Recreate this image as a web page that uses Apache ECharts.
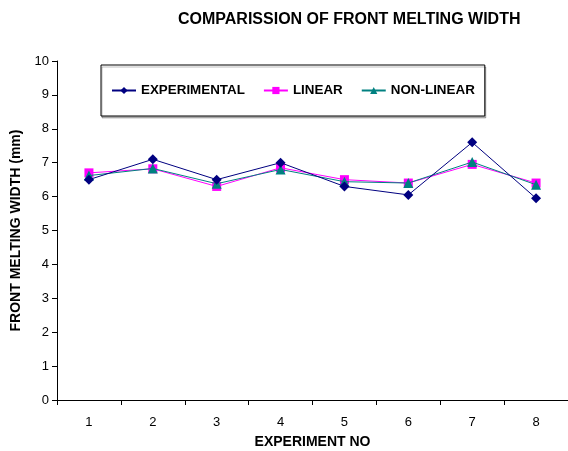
<!DOCTYPE html>
<html>
<head>
<meta charset="utf-8">
<script src="https://cdn.jsdelivr.net/npm/echarts@6/dist/echarts.min.js"></script>
<style>
  html, body { margin: 0; padding: 0; background: #fff; }
  #chart { width: 568px; height: 451px; }
</style>
</head>
<body>
<div id="chart"></div>
<script>
// Front melting width per experiment (mm)
const experiments = ['1', '2', '3', '4', '5', '6', '7', '8'];
const experimental = [6.5, 7.1, 6.5, 7.0, 6.3, 6.05, 7.6, 5.95];
const linear = [6.7, 6.82, 6.3, 6.85, 6.5, 6.4, 6.95, 6.4];
const nonLinear = [6.62, 6.83, 6.38, 6.8, 6.44, 6.4, 7.02, 6.35];
const yTicks = [0, 1, 2, 3, 4, 5, 6, 7, 8, 9, 10];

const font = 'Arial, "Liberation Sans", sans-serif';

const chart = echarts.init(document.getElementById('chart'), null, { renderer: 'canvas' });

chart.setOption({
  animation: false,
  backgroundColor: '#fff',
  title: {
    text: 'COMPARISSION OF FRONT MELTING WIDTH',
    left: 173,
    top: 7,
    textStyle: { fontFamily: font, fontSize: 16, fontWeight: 'bold', color: '#000' }
  },
  legend: {
    left: 101,
    top: 65,
    padding: [19, 10, 19, 10],
    itemGap: 18,
    itemWidth: 24,
    itemHeight: 9,
    borderColor: '#000',
    borderWidth: 1,
    shadowColor: 'rgba(0,0,0,0.25)',
    shadowOffsetX: 1,
    shadowOffsetY: 2,
    shadowBlur: 0,
    backgroundColor: '#fff',
    textStyle: { fontFamily: font, fontSize: 13.4, fontWeight: 'bold', color: '#000' },
    data: ['EXPERIMENTAL', 'LINEAR', 'NON-LINEAR']
  },
  grid: { left: 57, right: 0, top: 61, bottom: 51, outerBoundsMode: 'none', containLabel: false },
  xAxis: {
    type: 'category',
    data: experiments,
    boundaryGap: true,
    name: 'EXPERIMENT NO',
    nameLocation: 'middle',
    nameGap: 35,
    nameTextStyle: { fontFamily: font, fontSize: 14, fontWeight: 'bold', color: '#000' },
    axisLine: { lineStyle: { color: '#000', width: 1 } },
    axisTick: { show: true, length: 5, inside: false, lineStyle: { color: '#000' } },
    axisLabel: { fontFamily: font, fontSize: 13, color: '#000', margin: 16 },
    splitLine: { show: false }
  },
  yAxis: {
    type: 'value',
    min: yTicks[0],
    max: yTicks[yTicks.length - 1],
    interval: 1,
    name: 'FRONT MELTING WIDTH (mm)',
    nameLocation: 'middle',
    nameGap: 29,
    nameTextStyle: { fontFamily: font, fontSize: 14, fontWeight: 'bold', color: '#000' },
    axisLine: { show: true, lineStyle: { color: '#000', width: 1 } },
    axisTick: { show: true, length: 5, lineStyle: { color: '#000' } },
    axisLabel: { fontFamily: font, fontSize: 13, color: '#000', margin: 8 },
    splitLine: { show: false }
  },
  series: [
    {
      name: 'EXPERIMENTAL',
      type: 'line',
      data: experimental,
      symbol: 'diamond',
      symbolSize: 10,
      color: '#000080',
      lineStyle: { width: 1, color: '#000080' },
      itemStyle: { color: '#000080' },
      z: 4
    },
    {
      name: 'LINEAR',
      type: 'line',
      data: linear,
      symbol: 'rect',
      symbolSize: 9,
      color: '#FF00FF',
      lineStyle: { width: 1, color: '#FF00FF' },
      itemStyle: { color: '#FF00FF' },
      z: 2
    },
    {
      name: 'NON-LINEAR',
      type: 'line',
      data: nonLinear,
      symbol: 'triangle',
      symbolSize: 10,
      color: '#008080',
      lineStyle: { width: 1, color: '#008080' },
      itemStyle: { color: '#008080' },
      z: 3
    }
  ]
});
</script>
</body>
</html>
